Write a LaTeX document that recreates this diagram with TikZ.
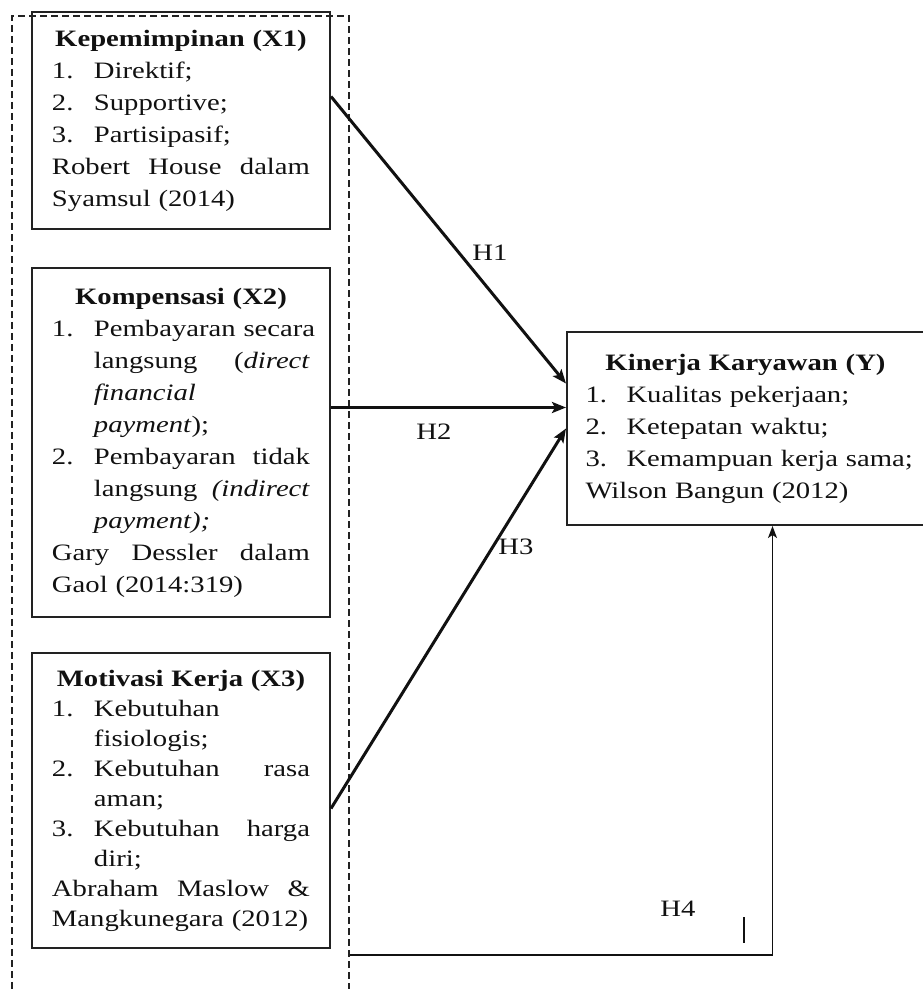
\documentclass[tikz,border=0pt]{standalone}
\usepackage{fontspec}
\setmainfont{Liberation Serif}[FakeStretch=1.22]
\usepackage{xcolor}
\usetikzlibrary{arrows.meta,positioning}
\definecolor{kkink}{HTML}{111111}
\definecolor{kkline}{HTML}{222222}
\tikzset{
  varbox/.style={rectangle,draw=kkline,line width=2pt,text width=258pt,inner xsep=20pt,
                 inner ysep=0pt,align=left,anchor=north west,text=kkink,
                 font=\fontsize{23.5}{32}\selectfont},
  grpbox/.style={rectangle,draw=kkline,line width=1.5pt,dash pattern=on 7pt off 4pt,
                 anchor=north west,inner sep=0pt},
  flow/.style={-{Stealth[length=14pt,width=11pt,inset=3pt]},line width=3pt,draw=kkink},
  thinflow/.style={-{Stealth[length=12pt,width=9pt,inset=3pt]},line width=1.6pt,draw=kkink},
  hlabel/.style={inner sep=0pt,text=kkink,font=\fontsize{23.5}{28}\selectfont},
}
\newcommand{\lst}[2]{\makebox[42pt][l]{#1}\makebox[216pt][l]{#2}}
\newcommand{\jst}[1]{\makebox[258pt][l]{#1}}

\begin{document}
\begin{tikzpicture}[x=1pt,y=-1pt]
  \useasboundingbox (0,0) rectangle (923,989);
  \node[grpbox,minimum width=337pt,minimum height=1000pt] (grp) at (11,15) {};
  \node[varbox,minimum height=217pt] (x1) at (31,11)
    {\jst{\hfill\textbf{Kepemimpinan (X1)}\hfill}\\
     \lst{1.}{Direktif;}\\
     \lst{2.}{Supportive;}\\
     \lst{3.}{Partisipasif;}\\
     \jst{Robert\hfill House\hfill dalam}\\
     Syamsul (2014)};
  \node[varbox,minimum height=349pt,below=37pt of x1] (x2)
    {\jst{\hfill\textbf{Kompensasi (X2)}\hfill}\\
     \lst{1.}{Pembayaran secara}\\
     \lst{}{langsung\hfill (\textit{direct}}\\
     \lst{}{\textit{financial}}\\
     \lst{}{\textit{payment});}\\
     \lst{2.}{Pembayaran\hfill tidak}\\
     \lst{}{langsung\hfill \textit{(indirect}}\\
     \lst{}{\textit{payment);}}\\
     \jst{Gary\hfill Dessler\hfill dalam}\\
     Gaol (2014:319)};
  \node[varbox,minimum height=295pt,below=34pt of x2,font=\fontsize{23.5}{30}\selectfont] (x3)
    {\jst{\hfill\textbf{Motivasi Kerja (X3)}\hfill}\\
     \lst{1.}{Kebutuhan}\\
     \lst{}{fisiologis;}\\
     \lst{2.}{Kebutuhan\hfill rasa}\\
     \lst{}{aman;}\\
     \lst{3.}{Kebutuhan\hfill harga}\\
     \lst{}{diri;}\\
     \jst{Abraham\hfill Maslow\hfill \&}\\
     Mangkunegara (2012)};
  \node[varbox,text width=320pt,inner xsep=18.5pt,minimum height=193pt,
        right=235pt of x2,yshift=14pt] (kin)
    {\makebox[320pt]{\textbf{Kinerja Karyawan (Y)}}\\
     \makebox[41pt][l]{1.}\makebox[279pt][l]{Kualitas pekerjaan;}\\
     \makebox[41pt][l]{2.}\makebox[279pt][l]{Ketepatan waktu;}\\
     \makebox[41pt][l]{3.}\makebox[279pt][l]{Kemampuan kerja sama;}\\
     Wilson Bangun (2012)};
  \coordinate (h2s) at ([yshift=35pt]x2.east);
  \coordinate (h4s) at (grp.east |- 0,955);
  \draw[flow] ([yshift=24pt]x1.east) -- ([yshift=45pt]kin.west);
  \draw[flow] (h2s) -- (h2s -| kin.west);
  \draw[flow] ([yshift=-8pt]x3.east) -- (kin.west);
  \draw[thinflow] (h4s) -| ([xshift=27pt]kin.south);
  \draw[line width=1.2pt,draw=kkink] (744,917) -- (744,943);
  \node[hlabel] (h1) at (490,253) {H1};
  \node[hlabel] (h2) at (434,432) {H2};
  \node[hlabel] (h3) at (516,547) {H3};
  \node[hlabel] (h4) at (678,909) {H4};
\end{tikzpicture}
\end{document}
